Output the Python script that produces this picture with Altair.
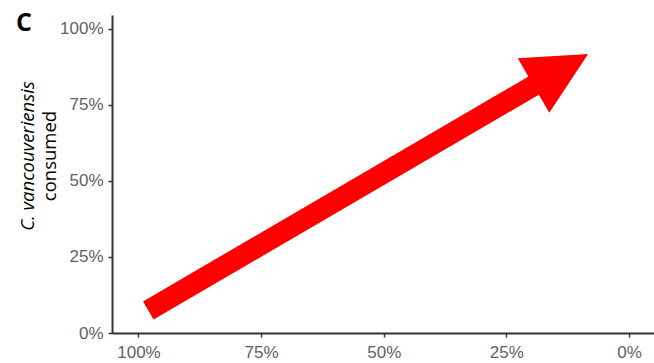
import altair as alt
import pandas as pd

# Axis ticks (proportions)
x_ticks = [1.0, 0.75, 0.5, 0.25, 0.0]
y_ticks = [0.0, 0.25, 0.5, 0.75, 1.0]

# Arrow: shaft from tail to head centre, head centre
shaft_x = [0.98, 0.139]
shaft_y = [0.074, 0.866]
head_x = [0.139]
head_y = [0.866]

panel_label = ["C"]
ytitle_line1 = ["C. vancouveriensis"]
ytitle_line2 = ["consumed"]

shaft_df = pd.DataFrame({"x": shaft_x, "y": shaft_y})
head_df = pd.DataFrame({"x": head_x, "y": head_y})

xscale = alt.Scale(domain=[-0.051, 1.054], reverse=True, nice=False, zero=False)
yscale = alt.Scale(domain=[0, 1.046], nice=False, zero=False)

xaxis = alt.Axis(values=x_ticks, format=".0%", title=None, grid=False,
                 domainColor="#333333", domainWidth=2, tickColor="#333333",
                 tickWidth=1.5, tickSize=4, labelColor="#616161",
                 labelFont="Liberation Sans", labelFontSize=17, labelPadding=7)
yaxis = alt.Axis(values=y_ticks, format=".0%", title=None, grid=False,
                 domainColor="#333333", domainWidth=2, tickColor="#333333",
                 tickWidth=1.5, tickSize=4, labelColor="#616161",
                 labelFont="Liberation Sans", labelFontSize=17, labelPadding=5)

shaft = alt.Chart(shaft_df).mark_line(color="#FF0000", strokeWidth=21, strokeCap="butt").encode(
    x=alt.X("x:Q", scale=xscale, axis=xaxis),
    y=alt.Y("y:Q", scale=yscale, axis=yaxis),
)

head = alt.Chart(head_df).mark_point(
    shape="M0,-1L-1,1L1,1Z", size=3969, angle=60, filled=True,
    color="#FF0000", opacity=1, strokeWidth=0
).encode(
    x=alt.X("x:Q", scale=xscale),
    y=alt.Y("y:Q", scale=yscale),
)

label_c = alt.Chart(pd.DataFrame({"t": panel_label})).mark_text(
    font="Open Sans", fontSize=25, fontWeight="bold", color="black",
    align="center", baseline="alphabetic"
).encode(text="t:N", x=alt.value(-88), y=alt.value(16))

t1 = alt.Chart(pd.DataFrame({"t": ytitle_line1})).mark_text(
    font="Open Sans", fontSize=18.5, fontStyle="italic", color="black",
    align="center", baseline="middle", angle=270
).encode(text="t:N", x=alt.value(-84), y=alt.value(141))

t2 = alt.Chart(pd.DataFrame({"t": ytitle_line2})).mark_text(
    font="Open Sans", fontSize=18.5, color="black",
    align="center", baseline="middle", angle=270
).encode(text="t:N", x=alt.value(-62), y=alt.value(141))

chart = alt.layer(shaft, head, label_c, t1, t2).properties(
    width=542, height=318,
    autosize=alt.AutoSizeParams(type="none"),
    padding={"left": 112, "top": 15, "right": 0, "bottom": 30},
    background="white",
).configure_view(stroke=None)

chart.save("out.html", embed_options={"renderer": "svg", "actions": False})
